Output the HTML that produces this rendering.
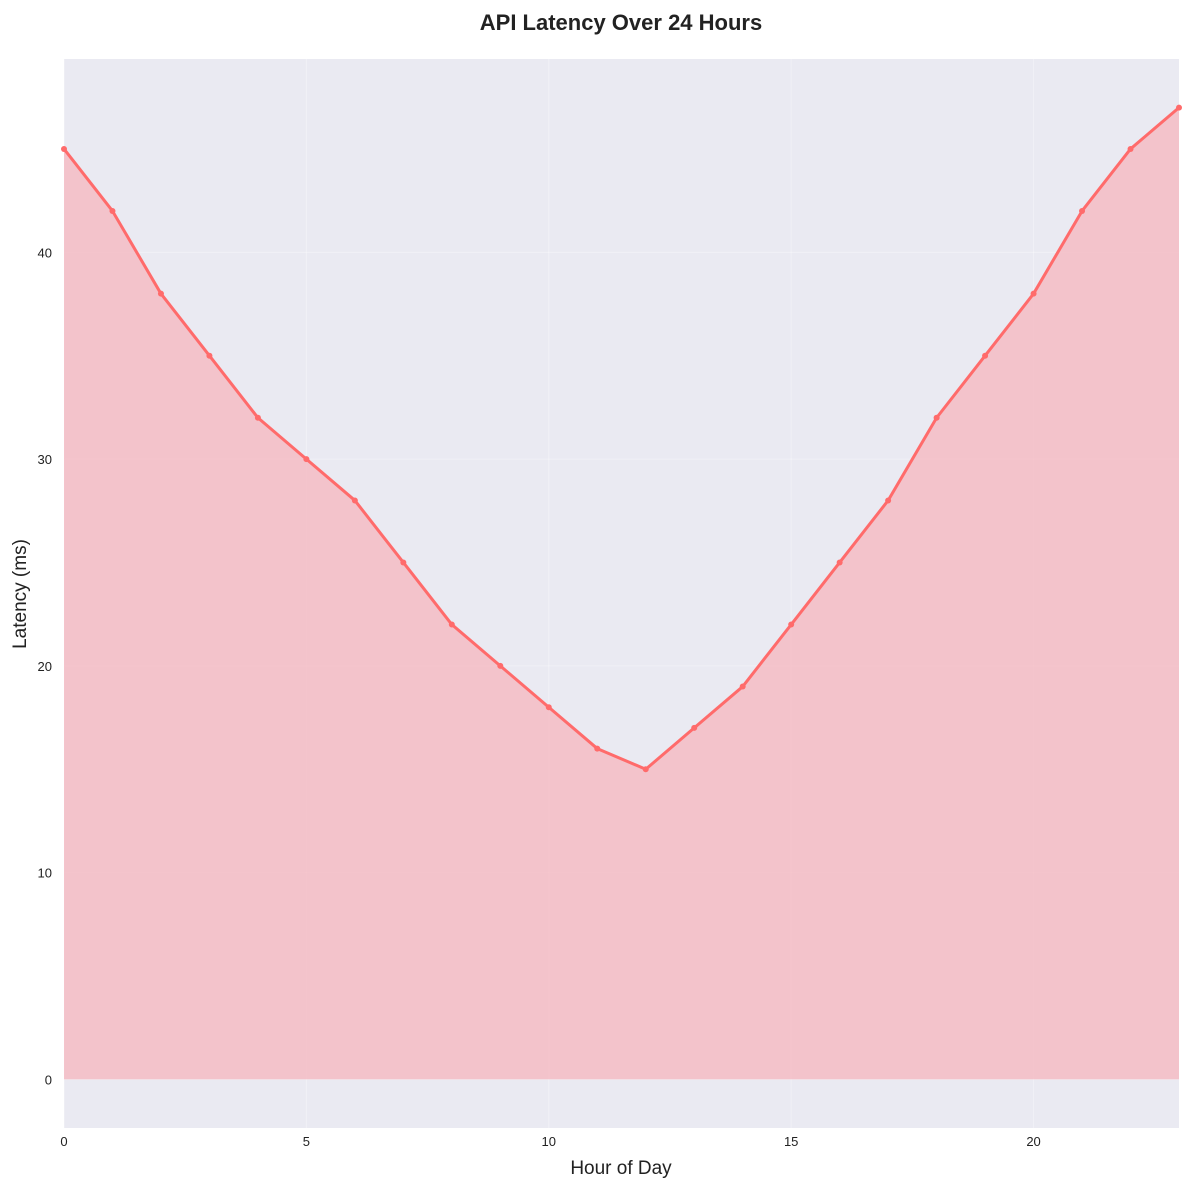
<!DOCTYPE html>
<html><head><meta charset="utf-8"><style>
body{margin:0;background:#fff;}
svg text{font-family:"Liberation Sans",sans-serif;}
</style></head><body>
<svg id="chart" width="1190" height="1190" xmlns="http://www.w3.org/2000/svg">
<text x="621" y="30" text-anchor="middle" font-size="22" font-weight="bold" fill="#222">API Latency Over 24 Hours</text>
<rect x="64" y="59" width="1115" height="1069" fill="#eaeaf2"/>
<g id="grid"></g>
<g id="series"></g>
<g id="ticks"></g>
<text x="621" y="1174" text-anchor="middle" font-size="19" fill="#222">Hour of Day</text>
<text x="26" y="594" text-anchor="middle" font-size="19" fill="#222" transform="rotate(-90 26 594)">Latency (ms)</text>
</svg>
<script>
const hours = [0,1,2,3,4,5,6,7,8,9,10,11,12,13,14,15,16,17,18,19,20,21,22,23];
const latency = [45,42,38,35,32,30,28,25,22,20,18,16,15,17,19,22,25,28,32,35,38,42,45,47];
const xTicks = [0,5,10,15,20];
const yTicks = [0,10,20,30,40];
const NS="http://www.w3.org/2000/svg";
const L=64,R=1179,T=59,B=1128;
const xMin=0,xMax=23,yMin=-2.35,yMax=49.35;
const sx=v=>L+(v-xMin)/(xMax-xMin)*(R-L);
const sy=v=>B-(v-yMin)/(yMax-yMin)*(B-T);
function mk(tag,attrs,parent){const e=document.createElementNS(NS,tag);for(const k in attrs)e.setAttribute(k,attrs[k]);document.getElementById(parent).appendChild(e);return e;}
xTicks.forEach(t=>{
  const g=mk('line',{x1:sx(t),x2:sx(t),y1:T,y2:B,stroke:'#fff','stroke-width':1,opacity:0.35},'grid');
  
  
  const tx=mk('text',{x:sx(t),y:B+18,'text-anchor':'middle','font-size':13,fill:'#222'},'ticks');
  tx.textContent=t;
  
  
});
yTicks.forEach(t=>{
  const g=mk('line',{x1:L,x2:R,y1:sy(t),y2:sy(t),stroke:'#fff','stroke-width':1,opacity:0.35},'grid');
  
  
  const tx=mk('text',{x:L-12,y:sy(t)+5,'text-anchor':'end','font-size':13,fill:'#222'},'ticks');
  tx.textContent=t;
  
  
});
let pts=hours.map((h,i)=>sx(h)+','+sy(latency[i])).join(' ');
const area=mk('polygon',{points:sx(hours[0])+','+sy(0)+' '+pts+' '+sx(hours[hours.length-1])+','+sy(0),fill:'#f5b5bd',opacity:0.75},'series');


const line=mk('polyline',{points:pts,fill:'none',stroke:'#ff6b6b','stroke-width':3,'stroke-linejoin':'round'},'series');


hours.forEach((h,i)=>{
  const c=mk('circle',{cx:sx(h),cy:sy(latency[i]),r:3,fill:'#ff6b6b'},'series');
  
  
});
</script>
</body></html>
